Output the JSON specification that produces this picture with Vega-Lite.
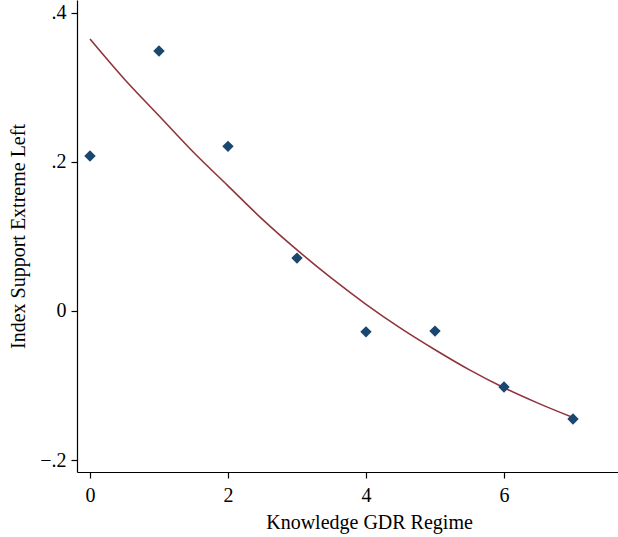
{
  "$schema": "https://vega.github.io/schema/vega-lite/v6.json",
  "autosize": "none",
  "width": 541,
  "height": 472,
  "padding": {"left": 77, "top": 0, "right": 0, "bottom": 65},
  "background": "white",
  "config": {
    "view": {"stroke": null},
    "font": "'Liberation Serif', 'Times New Roman', serif",
    "axis": {
      "grid": false,
      "domainColor": "#000000",
      "domainWidth": 1.2,
      "tickColor": "#000000",
      "tickWidth": 1.2,
      "tickSize": 6,
      "labelFont": "'Liberation Serif', 'Times New Roman', serif",
      "labelFontSize": 20,
      "labelColor": "#000000",
      "titleFont": "'Liberation Serif', 'Times New Roman', serif",
      "titleFontSize": 20,
      "titleFontWeight": "normal",
      "titleColor": "#000000"
    }
  },
  "datasets": {
    "points": [
      {"regime": 0, "support": 0.208},
      {"regime": 1, "support": 0.349},
      {"regime": 2, "support": 0.221},
      {"regime": 3, "support": 0.071},
      {"regime": 4, "support": -0.028},
      {"regime": 5, "support": -0.027},
      {"regime": 6, "support": -0.102},
      {"regime": 7, "support": -0.145}
    ],
    "fit": [
      {"regime": 0, "support": 0.365},
      {"regime": 0.5, "support": 0.311},
      {"regime": 1, "support": 0.262},
      {"regime": 1.5, "support": 0.213},
      {"regime": 2, "support": 0.168},
      {"regime": 2.5, "support": 0.123},
      {"regime": 3, "support": 0.082},
      {"regime": 3.5, "support": 0.044},
      {"regime": 4, "support": 0.009},
      {"regime": 4.5, "support": -0.023},
      {"regime": 5, "support": -0.052},
      {"regime": 5.5, "support": -0.079},
      {"regime": 6, "support": -0.103},
      {"regime": 6.5, "support": -0.124},
      {"regime": 7, "support": -0.143}
    ]
  },
  "encoding": {
    "x": {
      "field": "regime",
      "type": "quantitative",
      "scale": {"domain": [-0.188, 7.652], "nice": false, "zero": false},
      "axis": {
        "values": [0, 2, 4, 6],
        "title": "Knowledge GDR Regime",
        "labelPadding": 7,
        "titleX": 292,
        "titleY": 56,
        "titleBaseline": "alphabetic",
        "titleAnchor": null
      }
    },
    "y": {
      "field": "support",
      "type": "quantitative",
      "scale": {"domain": [-0.2161, 0.4174], "nice": false, "zero": false},
      "axis": {
        "values": [-0.2, 0, 0.2, 0.4],
        "labelExpr": "datum.value == 0 ? '0' : replace(format(datum.value, '.1f'), '0.', '.')",
        "labelPadding": 5,
        "title": "Index Support Extreme Left",
        "titleAngle": -90,
        "titleX": -59,
        "titleY": 236,
        "titleBaseline": "middle",
        "titleAlign": "center"
      }
    }
  },
  "layer": [
    {
      "data": {"name": "fit"},
      "mark": {"type": "line", "color": "#90353b", "strokeWidth": 1.6, "interpolate": "monotone"}
    },
    {
      "data": {"name": "points"},
      "mark": {"type": "point", "shape": "diamond", "filled": true, "opacity": 1, "color": "#1a476f", "size": 130}
    }
  ]
}
